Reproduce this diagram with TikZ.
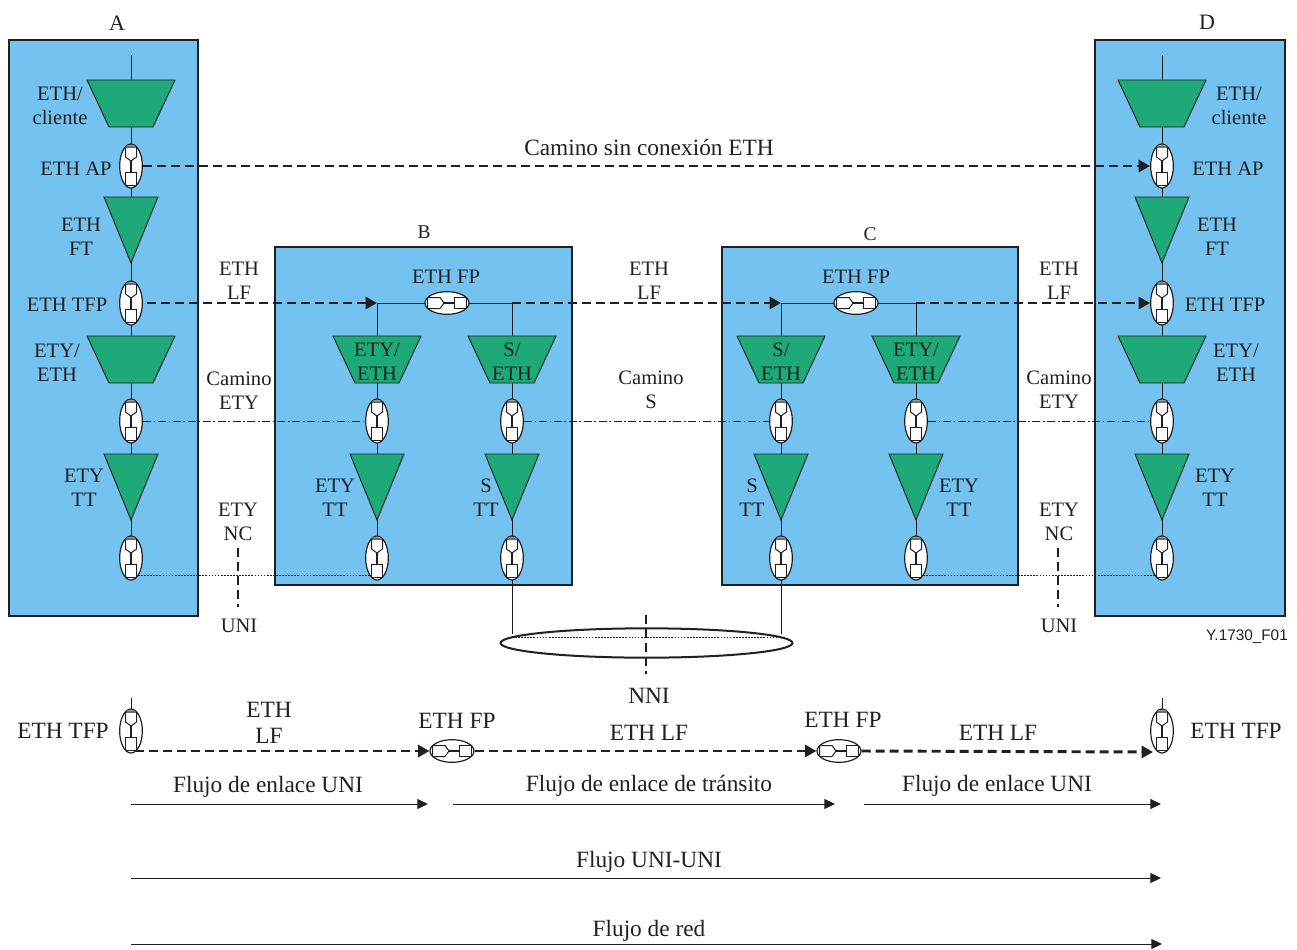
\documentclass[tikz,border=0pt]{standalone}
\usepackage{fontspec}
\setmainfont{Liberation Serif}
\setsansfont{Liberation Sans}
\usetikzlibrary{arrows.meta,shapes.geometric}
\definecolor{boxblue}{HTML}{73C2EF}
\definecolor{fngreen}{HTML}{1EAA78}
\definecolor{ink}{HTML}{231F20}
\tikzset{
  boxarea/.style={draw=ink,fill=boxblue,line width=1.7pt},
  fn/.style={draw=ink,fill=fngreen,line width=.7pt,line join=miter},
  wire/.style={draw=ink,line width=.75pt},
  portv/.style={draw=ink,fill=white,ellipse,line width=.9pt,minimum width=17pt,minimum height=33pt,inner sep=0pt},
  porth/.style={draw=ink,fill=white,ellipse,line width=.9pt,minimum width=33pt,minimum height=17pt,inner sep=0pt},
  glyph/.style={draw=ink,line width=.75pt,line join=miter},
  stem/.style={draw=ink,line width=1.3pt},
  dashline/.style={draw=ink,line width=2.2pt,dash pattern=on 6.75pt off 3.75pt},
  tipd/.style={-{Triangle[length=8.5pt,width=9pt]}},
  flow/.style={draw=ink,line width=.75pt,-{Triangle[length=8pt,width=7.5pt]}},
  dashdot/.style={draw=ink,line width=.6pt,dash pattern=on 6pt off 2pt on 1.2pt off 2pt},
  dots/.style={draw=ink,line width=.6pt,dash pattern=on 1.3pt off 1pt},
  lbl/.style={text=ink,inner sep=0pt,align=center,yshift=-.5pt,font=\fontsize{15.4}{17.6}\selectfont},
  lblc/.style={lbl,font=\fontsize{14.6}{17}\selectfont},
  lblb/.style={lbl,yshift=-1.2pt,font=\fontsize{17.5}{19.5}\selectfont},
}
\newcommand{\VP}[3]{%
  \node[portv] (#1) at (#2,#3) {};
  \begin{scope}[shift={(#2,#3)}]
    \fill[ink!45] (-5,-19) -- (5,-19) -- (3,-21) -- (-3,-21) -- cycle;
    \draw[stem] (0,-5) -- (0,7);
    \draw[glyph,fill=white] (-5.5,-19) -- (5.5,-19) -- (5.5,-9) -- (0,-5) -- (-5.5,-9) -- cycle;
    \draw[glyph,fill=white] (-5.5,6) rectangle (5.5,19.5);
  \end{scope}}
\newcommand{\HP}[3]{%
  \node[porth] (#1) at (#2,#3) {};
  \begin{scope}[shift={(#2,#3)}]
    \draw[stem] (-4,0) -- (7,0);
    \draw[glyph,fill=white] (-19.5,-5.5) -- (-7,-5.5) -- (-3,0) -- (-7,5.5) -- (-19.5,5.5) -- cycle;
    \draw[glyph,fill=white] (7,-5.5) rectangle (19.5,5.5);
  \end{scope}}
\newcommand{\TZ}[3]{%
  \coordinate (#1) at (#2,#3);
  \draw[fn] (#2-44,#3) -- (#2+44,#3) -- (#2+22,#3+47) -- (#2-22,#3+47) -- cycle;}
\newcommand{\TI}[3]{%
  \coordinate (#1) at (#2,#3);
  \draw[fn] (#2-27,#3) -- (#2+27,#3) -- (#2,#3+66) -- cycle;}
\begin{document}
\begin{tikzpicture}[x=.75pt,y=-.75pt]
\useasboundingbox (0,0) rectangle (1297,950);
% boxes
\node[boxarea,minimum width=141.75pt,minimum height=432pt,inner sep=0pt] (boxA) at (103.5,328) {};
\node[boxarea,minimum width=142.5pt,minimum height=432pt,inner sep=0pt] (boxD) at (1190,328) {};
\node[boxarea,minimum width=222.75pt,minimum height=253.5pt,inner sep=0pt] (boxB) at (423.5,416) {};
\node[boxarea,minimum width=222pt,minimum height=253.5pt,inner sep=0pt] (boxC) at (870,416) {};
% vertical wires
\draw[wire] (131,55) -- (131,558);
\draw[wire] (1162,55) -- (1162,558);
\draw[wire] (377,303) -- (377,558);
\draw[wire] (512,303) -- (512,634);
\draw[wire] (781,303) -- (781,634);
\draw[wire] (916,303) -- (916,558);
\draw[wire] (131,698) -- (131,712);
\draw[wire] (1162,698) -- (1162,712);
% A column
\TZ{a1}{131}{80} \VP{pA1}{131}{166} \TI{a2}{131}{197} \VP{pA2}{131}{303}
\TZ{a3}{131}{336} \VP{pA3}{131}{421} \TI{a4}{131}{454} \VP{pA4}{131}{558}
% D column
\TZ{d1}{1162}{80} \VP{pD1}{1162}{166} \TI{d2}{1162}{197} \VP{pD2}{1162}{303}
\TZ{d3}{1162}{336} \VP{pD3}{1162}{421} \TI{d4}{1162}{454} \VP{pD4}{1162}{558}
% B
\coordinate (jB1) at (377,303); \coordinate (jB2) at (512,303);
\coordinate (jC1) at (781,303); \coordinate (jC2) at (916,303);
\draw[wire] (jB1) -- (jB2);
\draw[wire] (jC1) -- (jC2);
\HP{fpB}{447}{303} \HP{fpC}{856}{303}
\TZ{b1}{377}{336} \VP{pB1}{377}{421} \TI{b2}{377}{454} \VP{pB2}{377}{558}
\TZ{b3}{512}{336} \VP{pB3}{512}{421} \TI{b4}{512}{454} \VP{pB4}{512}{558}
\TZ{c1}{781}{336} \VP{pC1}{781}{421} \TI{c2}{781}{454} \VP{pC2}{781}{558}
\TZ{c3}{916}{336} \VP{pC3}{916}{421} \TI{c4}{916}{454} \VP{pC4}{916}{558}
% dashed ETH
\draw[dashline,tipd] (pA1.east) -- (pD1.west);
\coordinate (sA) at (147,303);
\draw[dashline,tipd] (sA) -- (jB1);
\draw[dashline,tipd] (jB2) -- (jC1);
\draw[dashline,tipd] (jC2) -- (pD2.west);
% dash-dot
\draw[dashdot] (pA3.east) -- (pB1.west);
\draw[dashdot] (pB3.east) -- (pC1.west);
\draw[dashdot] (pC3.east) -- (pD3.west);
% dotted
\coordinate (dA) at (138,575); \coordinate (dB) at (370,575);
\coordinate (dC) at (923,575); \coordinate (dD) at (1155,575);
\draw[dots] (dA) -- (dB);
\draw[dots] (dC) -- (dD);
% UNI dashes
\coordinate (u1a) at (238,548); \coordinate (u1b) at (238,607);
\coordinate (u2a) at (1058,548); \coordinate (u2b) at (1058,607);
\draw[dashline] (u1a) -- (u1b);
\draw[dashline] (u2a) -- (u2b);
% NNI ellipse
\node[draw=ink,line width=1.5pt,ellipse,minimum width=219pt,minimum height=22pt,inner sep=0pt] (nni) at (646.5,643) {};
\coordinate (eL) at (512,637); \coordinate (eR) at (781,637);
\draw[dots] (eL) -- (eR);
\coordinate (n1) at (646,615); \coordinate (n2) at (646,674);
\draw[dashline] (n1) -- (n2);
% bottom chain
\VP{tfpL}{131}{731} \VP{tfpR}{1162}{731}
\HP{fpL}{452}{751} \HP{fpR}{839}{751}
\coordinate (cL) at (135,751);
\coordinate (tipR) at (1153,752);
\draw[dashline,tipd] (cL) -- (fpL.west);
\draw[dashline,tipd] (fpL.east) -- (fpR.west);
\draw[dashline,tipd] (fpR.east) -- (tipR);
% flows
\coordinate (f1a) at (131,804); \coordinate (f1b) at (428,804);
\coordinate (f2a) at (453,804); \coordinate (f2b) at (835,804);
\coordinate (f3a) at (864,804); \coordinate (f3b) at (1161,804);
\coordinate (f4a) at (131,878); \coordinate (f4b) at (1161,878);
\coordinate (f5a) at (131,944); \coordinate (f5b) at (1162,944);
\draw[flow] (f1a) -- (f1b);
\draw[flow] (f2a) -- (f2b);
\draw[flow] (f3a) -- (f3b);
\draw[flow] (f4a) -- (f4b);
\draw[flow] (f5a) -- (f5b);
% labels
\node[lbl,font=\fontsize{16.5}{18}\selectfont] (tA) at (117,23) {A};
\node[lbl,font=\fontsize{16.5}{18}\selectfont] (tD) at (1207,22) {D};
\node[lblc] (tB) at (424,231) {B};
\node[lblc] (tC) at (870,233) {C};
\node[lbl] (l1) at (60,105) {ETH/\\cliente};
\node[lbl] (l2) at (76,168) {ETH AP};
\node[lbl] (l3) at (81,236) {ETH\\FT};
\node[lbl] (l4) at (67,304) {ETH TFP};
\node[lbl] (l5) at (57,362) {ETY/\\ETH};
\node[lbl] (l6) at (84,487) {ETY\\TT};
\node[lbl] (r1) at (1239,105) {ETH/\\cliente};
\node[lbl] (r2) at (1228,168) {ETH AP};
\node[lbl] (r3) at (1217,236) {ETH\\FT};
\node[lbl] (r4) at (1225,304) {ETH TFP};
\node[lbl] (r5) at (1236,362) {ETY/\\ETH};
\node[lbl] (r6) at (1215,487) {ETY\\TT};
\node[lblb] (m0) at (649,145) {Camino sin conexión ETH};
\node[lbl] (m1) at (239,280) {ETH\\LF};
\node[lbl] (m2) at (649,280) {ETH\\LF};
\node[lbl] (m3) at (1059,280) {ETH\\LF};
\node[lbl] (m4) at (446,276) {ETH FP};
\node[lbl] (m5) at (856,276) {ETH FP};
\node[lbl] (m6) at (239,390) {Camino\\ETY};
\node[lbl] (m7) at (651,389) {Camino\\S};
\node[lbl] (m8) at (1059,389) {Camino\\ETY};
\node[lbl] (m9) at (238,521) {ETY\\NC};
\node[lbl] (m10) at (1059,521) {ETY\\NC};
\node[lbl] (m11) at (239,625) {UNI};
\node[lbl] (m12) at (1059,625) {UNI};
\node[lblb] (m13) at (649,694) {NNI};
\node[lbl] (b1t) at (377,361) {ETY/\\ETH};
\node[lbl] (b3t) at (512,361) {S/\\ETH};
\node[lbl] (c1t) at (781,361) {S/\\ETH};
\node[lbl] (c3t) at (916,361) {ETY/\\ETH};
\node[lbl] (b2t) at (335,497) {ETY\\TT};
\node[lbl] (b4t) at (486,497) {S\\TT};
\node[lbl] (c2t) at (752,497) {S\\TT};
\node[lbl] (c4t) at (959,497) {ETY\\TT};
\node[font=\sffamily\fontsize{11.5}{13}\selectfont,text=ink,inner sep=0pt] (code) at (1247,637) {Y.1730\_F01};
\node[lblb] (n1t) at (63,729) {ETH TFP};
\node[lblb] (n2t) at (1236,729) {ETH TFP};
\node[lblb] (n3t) at (269,721) {ETH\\LF};
\node[lblb] (n4t) at (457,719) {ETH FP};
\node[lblb] (n5t) at (649,731) {ETH LF};
\node[lblb] (n6t) at (843,718) {ETH FP};
\node[lblb] (n7t) at (998,731) {ETH LF};
\node[lblb] (n8t) at (268,785) {Flujo de enlace UNI};
\node[lblb] (n9t) at (649,784) {Flujo de enlace de tránsito};
\node[lblb] (n10t) at (997,784) {Flujo de enlace UNI};
\node[lblb] (n11t) at (649,860) {Flujo UNI-UNI};
\node[lblb] (n12t) at (649,929) {Flujo de red};
\end{tikzpicture}
\end{document}
